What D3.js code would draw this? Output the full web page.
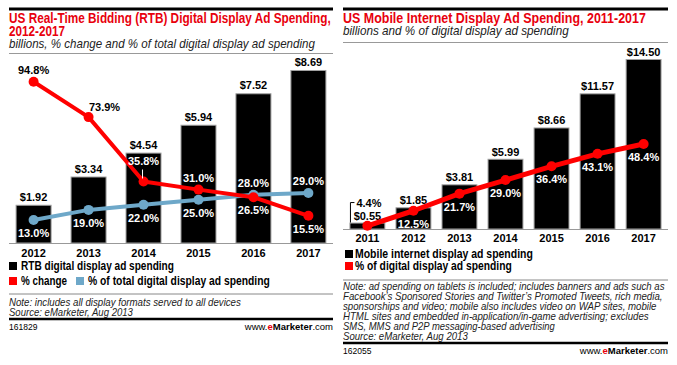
<!DOCTYPE html>
<html>
<head>
<meta charset="utf-8">
<script src="https://cdn.jsdelivr.net/npm/d3@7"></script>
<style>
  body { margin: 0; background: #fff; }
  svg { display: block; font-family: "Liberation Sans", Arial, sans-serif; }
</style>
</head>
<body>
<svg id="chart" width="677" height="365"></svg>
<script>
// ---- data ----
var rtbYears = ['2012', '2013', '2014', '2015', '2016', '2017'];
var rtbSpending = [1.92, 3.34, 4.54, 5.94, 7.52, 8.69];
var rtbChange = [94.8, 73.9, 35.8, 31.0, 26.5, 15.5];
var rtbShare = [13.0, 19.0, 22.0, 25.0, 28.0, 29.0];

var mobileYears = ['2011', '2012', '2013', '2014', '2015', '2016', '2017'];
var mobileSpending = [0.55, 1.85, 3.81, 5.99, 8.66, 11.57, 14.50];
var mobileShare = [4.4, 12.5, 21.7, 29.0, 36.4, 43.1, 48.4];

var rtbNotes = [
  'Note: includes all display formats served to all devices',
  'Source: eMarketer, Aug 2013'
];
var mobileNotes = [
  'Note: ad spending on tablets is included; includes banners and ads such as',
  'Facebook\u2019s Sponsored Stories and Twitter\u2019s Promoted Tweets, rich media,',
  'sponsorships and video; mobile also includes video on WAP sites, mobile',
  'HTML sites and embedded in-application/in-game advertising; excludes',
  'SMS, MMS and P2P messaging-based advertising',
  'Source: eMarketer, Aug 2013'
];

// label placement (layout only)
var rtbChangePlace = ['above', 'aboveRight', 'leader', 'above', 'below', 'below'];
var rtbSharePlace = ['below', 'below', 'below', 'below', 'above', 'above'];
var mobileSharePlace = ['leader', 'below', 'below', 'below', 'below', 'below', 'below'];

var TITLE_RED = '#e8000d', LINE_RED = '#ff0000', BLUE = '#6ea8c9';
var money = d3.format('$.2f');
var pct = function(v){ return d3.format('.1f')(v) + '%'; };

var svg = d3.select('#chart');

function addText(g, x, y, str, o){
  o = o || {};
  var t = g.append('text')
    .attr('x', x).attr('y', y)
    .attr('font-size', o.size || 11)
    .attr('font-weight', o.weight || 'normal')
    .attr('font-style', o.style || 'normal')
    .attr('fill', o.fill || '#000')
    .attr('text-anchor', o.anchor || 'start')
    .text(str);
  if(o.len){
    // squeeze horizontally to the condensed width of the original
    var w = t.node().getComputedTextLength();
    var sx = o.len / w;
    t.attr('x', 0).attr('y', 0)
      .attr('transform', 'translate(' + x + ',' + y + ') scale(' + sx + ',1)');
  }
  return t;
}

function hline(g, x1, x2, y, color, w){
  g.append('line')
    .attr('x1', x1).attr('x2', x2).attr('y1', y).attr('y2', y)
    .attr('stroke', color).attr('stroke-width', w);
}

function footer(g, left, right, y, id){
  hline(g, left, right, y, '#000', 2.5);
  addText(g, left, y + 10.5, id, {size: 8.5});
  var t = g.append('text')
    .attr('x', right).attr('y', y + 10.5)
    .attr('font-size', 9.5).attr('text-anchor', 'end');
  t.append('tspan').text('www.');
  t.append('tspan').attr('font-weight', 'bold').attr('fill', TITLE_RED).text('e');
  t.append('tspan').attr('font-weight', 'bold').text('Marketer');
  t.append('tspan').text('.com');
}

function isInsideBar(x, y, band, barTops, domain){
  for(var i = 0; i < domain.length; i++){
    var bx = band(domain[i]);
    if(x >= bx && x <= bx + band.bandwidth() && y - 8 > barTops[i]) return true;
  }
  return false;
}

// line series with dots
function drawSeries(g, xb, years, values, yScale, color, lineW, r, places){
  var pts = values.map(function(v, i){
    return {x: xb(years[i]) + xb.bandwidth()/2, y: yScale(v), v: v, place: places[i]};
  });
  g.append('path')
    .datum(pts)
    .attr('fill', 'none')
    .attr('stroke', color)
    .attr('stroke-width', lineW)
    .attr('stroke-linejoin', 'round')
    .attr('d', d3.line().x(function(d){ return d.x; }).y(function(d){ return d.y; }));
  g.selectAll(null).data(pts).enter().append('circle')
    .attr('cx', function(d){ return d.x; })
    .attr('cy', function(d){ return d.y; })
    .attr('r', r)
    .attr('fill', color);
  return pts;
}

function drawPctLabels(g, pts, xb, years, barTops){
  pts.forEach(function(d){
    var lx = d.x, ly;
    if(d.place === 'above') ly = d.y - 8;
    else if(d.place === 'aboveRight'){ lx = d.x + 16; ly = d.y - 6; }
    else if(d.place === 'below') ly = d.y + 17;
    else ly = d.y - 16;
    var inside = isInsideBar(lx, ly, xb, barTops, years);
    addText(g, lx, ly, pct(d.v), {size: 11, weight: 'bold', anchor: 'middle', fill: inside ? '#fff' : '#000'});
  });
}

// ================= LEFT PANEL =================
(function(){
  var L = 9, R = 333;
  var g = svg.append('g');
  hline(g, L, R, 9, '#000', 3);
  addText(g, L, 23, 'US Real-Time Bidding (RTB) Digital Display Ad Spending,', {size: 14, weight: 'bold', fill: TITLE_RED, len: 322});
  addText(g, L, 36, '2012-2017', {size: 14, weight: 'bold', fill: TITLE_RED, len: 56});
  addText(g, L, 47.5, 'billions, % change and % of total digital display ad spending', {size: 13, style: 'italic', fill: '#222', len: 306});
  hline(g, L, R, 53.5, '#999', 1);

  var base = 243;
  var x = d3.scaleBand().domain(rtbYears).range([L, R]).paddingInner(0.345).paddingOuter(0.12);
  var y = d3.scaleLinear().domain([0, 10]).range([base, base - 199.1]);
  var yp = d3.scaleLinear().domain([0, 100]).range([base - 1, base - 170]);

  var barTops = rtbSpending.map(function(v){ return y(v); });

  g.selectAll('rect.bar').data(rtbSpending).enter().append('rect')
    .attr('class', 'bar')
    .attr('x', function(d, i){ return x(rtbYears[i]) + 0.5; })
    .attr('y', function(d){ return y(d) + 0.5; })
    .attr('width', x.bandwidth() - 1)
    .attr('height', function(d){ return base - y(d) - 0.5; })
    .attr('fill', '#000')
    .attr('stroke', '#a0a0a0')
    .attr('stroke-width', 1);

  rtbSpending.forEach(function(v, i){
    addText(g, x(rtbYears[i]) + x.bandwidth()/2, y(v) - 4, money(v), {size: 11, weight: 'bold', anchor: 'middle'});
  });

  hline(g, L, R, base + 0.5, '#999', 1);
  var axis = g.append('g').attr('transform', 'translate(0,' + base + ')')
    .call(d3.axisBottom(x).tickSize(0).tickPadding(6));
  axis.select('.domain').remove();
  axis.selectAll('text').attr('font-size', 11).attr('font-weight', 'bold').attr('fill', '#000')
    .attr('font-family', '"Liberation Sans", Arial, sans-serif').attr('dy', '0.71em');

  var bluePts = drawSeries(g, x, rtbYears, rtbShare, yp, BLUE, 4, 5, rtbSharePlace);
  var redPts = drawSeries(g, x, rtbYears, rtbChange, yp, LINE_RED, 4, 5, rtbChangePlace);

  // leader line for the 2014 label
  redPts.forEach(function(d){
    if(d.place === 'leader'){
      g.append('line').attr('x1', d.x - 1).attr('x2', d.x - 1).attr('y1', d.y - 12).attr('y2', d.y - 3)
        .attr('stroke', '#fff').attr('stroke-width', 1);
    }
  });
  drawPctLabels(g, redPts, x, rtbYears, barTops);
  drawPctLabels(g, bluePts, x, rtbYears, barTops);

  // legend
  g.append('rect').attr('x', L).attr('y', 262).attr('width', 8).attr('height', 8).attr('fill', '#000');
  addText(g, L + 12, 270, 'RTB digital display ad spending', {size: 12, weight: 'bold', len: 153});
  g.append('rect').attr('x', L).attr('y', 277).attr('width', 8).attr('height', 8).attr('fill', LINE_RED);
  addText(g, L + 12, 285, '% change', {size: 12, weight: 'bold', len: 46});
  g.append('rect').attr('x', 76).attr('y', 277).attr('width', 8).attr('height', 8).attr('fill', BLUE);
  addText(g, 88, 285, '% of total digital display ad spending', {size: 12, weight: 'bold', len: 182});

  hline(g, L, R, 294, '#888', 1);
  addText(g, L, 305.5, rtbNotes[0], {size: 10.5, style: 'italic', fill: '#222', len: 232});
  addText(g, L, 315.5, rtbNotes[1], {size: 10.5, style: 'italic', fill: '#222', len: 124});
  footer(g, L, R, 319, '161829');
})();

// ================= RIGHT PANEL =================
(function(){
  var L = 343, R = 668;
  var g = svg.append('g');
  hline(g, L, R, 9, '#000', 3);
  addText(g, L, 23, 'US Mobile Internet Display Ad Spending, 2011-2017', {size: 14, weight: 'bold', fill: TITLE_RED, len: 303});
  addText(g, L, 35, 'billions and % of digital display ad spending', {size: 13, style: 'italic', fill: '#222', len: 226});
  hline(g, L, R, 42.5, '#999', 1);

  var base = 229;
  var x = d3.scaleBand().domain(mobileYears).range([L, R]).paddingInner(0.22).paddingOuter(0.14);
  var y = d3.scaleLinear().domain([0, 14.5]).range([base, base - 170]);
  var yp = d3.scaleLinear().domain([0, 50]).range([base + 5, base - 88]);

  var barTops = mobileSpending.map(function(v){ return y(v); });

  g.selectAll('rect.bar').data(mobileSpending).enter().append('rect')
    .attr('class', 'bar')
    .attr('x', function(d, i){ return x(mobileYears[i]) + 0.5; })
    .attr('y', function(d){ return y(d) + 0.5; })
    .attr('width', x.bandwidth() - 1)
    .attr('height', function(d){ return base - y(d) - 0.5; })
    .attr('fill', '#000')
    .attr('stroke', '#a0a0a0')
    .attr('stroke-width', 1);

  mobileSpending.forEach(function(v, i){
    addText(g, x(mobileYears[i]) + x.bandwidth()/2, y(v) - 3, money(v), {size: 11, weight: 'bold', anchor: 'middle'});
  });

  hline(g, L, R, base + 0.5, '#999', 1);
  var axis = g.append('g').attr('transform', 'translate(0,' + base + ')')
    .call(d3.axisBottom(x).tickSize(0).tickPadding(5));
  axis.select('.domain').remove();
  axis.selectAll('text').attr('font-size', 11).attr('font-weight', 'bold').attr('fill', '#000')
    .attr('font-family', '"Liberation Sans", Arial, sans-serif').attr('dy', '0.71em');

  var pts = drawSeries(g, x, mobileYears, mobileShare, yp, LINE_RED, 5, 5, mobileSharePlace);

  pts.forEach(function(d, i){
    if(d.place === 'leader'){
      var bx = x(mobileYears[i]) + 1;
      g.append('path')
        .attr('d', 'M' + (bx + 4) + ',' + (barTops[i] - 20) + 'H' + bx + 'V' + (barTops[i]))
        .attr('fill', 'none').attr('stroke', '#000').attr('stroke-width', 1);
      addText(g, bx + 6, barTops[i] - 16, pct(d.v), {size: 11, weight: 'bold'});
    }
  });
  drawPctLabels(g, pts.filter(function(d){ return d.place !== 'leader'; }), x, mobileYears, barTops);

  // legend
  g.append('rect').attr('x', L + 2).attr('y', 250).attr('width', 8).attr('height', 8).attr('fill', '#000');
  addText(g, L + 12, 258, 'Mobile internet display ad spending', {size: 12, weight: 'bold', len: 178});
  g.append('rect').attr('x', L + 2).attr('y', 262).attr('width', 8).attr('height', 8).attr('fill', LINE_RED);
  addText(g, L + 12, 270, '% of digital display ad spending', {size: 12, weight: 'bold', len: 157});

  hline(g, L, R, 280, '#888', 1);
  var noteLens = [322, 320, 314, 306, 212, 125];
  mobileNotes.forEach(function(s, i){
    addText(g, L, 290 + i * 10, s, {size: 10.5, style: 'italic', fill: '#222', len: noteLens[i]});
  });
  footer(g, L, R, 343, '162055');
})();
</script>
</body>
</html>
